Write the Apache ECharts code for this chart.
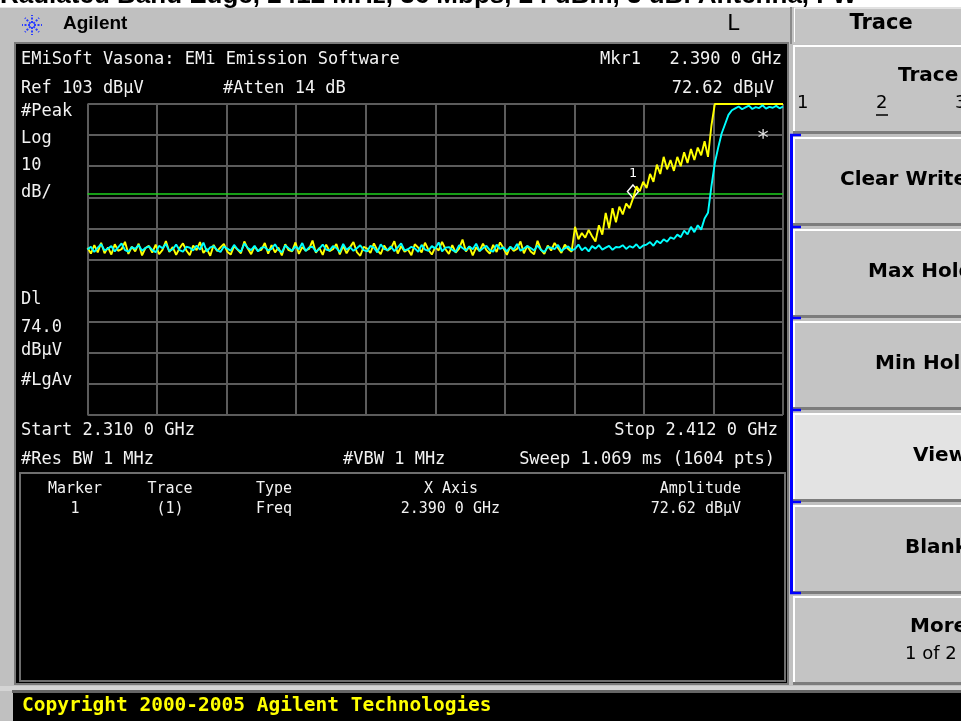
<!DOCTYPE html>
<html><head><meta charset="utf-8">
<script src="https://cdn.jsdelivr.net/npm/echarts@6/dist/echarts.min.js"></script>
<style>html,body{margin:0;padding:0;background:#c0c0c0;overflow:hidden}#c{width:961px;height:721px}</style>
</head><body><div id="c"></div>
<script>
// ---- Sweep settings (from the instrument annotation) ----
const startMHz = 2310.0;
const stopMHz = 2412.0;
const stepMHz = 0.5;
const refLevel = 103;      // dBuV, top of graticule
const bottomLevel = 3;     // 10 dB/div, 10 divisions
const displayLine = 74.0;  // DL 74.0 dBuV
const markerFreq = 2390.0; // Mkr1 2.390 0 GHz
const markerAmp = 72.62;   // 72.62 dBuV

// Graticule divisions
const xGridMHz = [2310, 2320.2, 2330.4, 2340.6, 2350.8, 2361, 2371.2, 2381.4, 2391.6, 2401.8, 2412];
const yGridDb = [3, 13, 23, 33, 43, 53, 63, 73, 83, 93, 103];

// Trace 1 (yellow, #Peak), dBuV, one value per 0.5 MHz from 2310 MHz
const peakTrace = [
56.8,54.9,57.6,55.3,58.4,55.0,56.9,54.6,57.9,55.8,56.3,58.7,54.8,57.1,55.6,58.1,54.3,56.7,57.4,55.2,
57.8,54.7,56.1,58.9,55.4,57.0,54.5,56.6,58.2,55.9,54.4,57.5,56.0,58.6,55.1,56.4,54.2,57.7,55.7,56.9,
58.0,55.5,54.6,57.3,56.2,55.0,58.8,56.5,54.7,57.2,55.8,56.1,58.3,54.9,57.6,55.3,56.8,54.3,57.9,56.0,
55.6,58.5,54.8,57.0,55.9,56.4,59.1,55.2,56.7,54.5,57.8,55.7,56.3,58.0,54.6,57.4,55.0,56.9,58.6,55.4,
54.2,57.1,56.5,55.1,58.2,56.0,54.7,57.5,55.8,56.6,58.9,54.9,57.3,55.5,56.2,54.4,57.9,56.8,55.3,58.4,
56.1,54.6,57.0,55.9,58.7,56.3,54.8,57.6,55.2,56.5,59.4,55.6,57.2,54.3,56.9,55.7,58.1,56.0,54.9,57.7,
55.4,58.5,56.6,54.5,57.1,55.8,56.4,58.8,55.0,57.4,55.6,54.7,59.0,56.2,54.8,57.5,55.9,58.3,56.7,55.1,
57.8,56.4,55.5,
63.5,59.5,61.5,60.0,62.5,60.5,58.8,64.0,61.0,68.0,
63.0,69.5,65.0,70.0,67.5,71.0,69.5,72.6,76.5,75.0,
78.0,76.0,80.5,78.0,83.5,80.5,86.0,82.0,85.0,81.5,
86.0,83.0,87.5,84.0,88.5,85.0,89.0,86.5,91.0,86.0,
96.0,
103,103,103,103,103,103,103,103,103,103,103,103,103,103,103,103,103,103,103,103,103
];

// Trace 2 (cyan, #LgAv), dBuV, same sweep points
const avgTrace = [
56.2,57.1,55.4,56.8,57.9,55.9,56.5,57.3,55.6,56.9,58.2,56.0,55.5,57.0,56.4,57.6,55.8,56.7,57.2,56.1,
55.3,57.4,56.6,58.0,55.7,56.3,57.8,56.0,55.5,57.1,56.8,55.9,57.5,56.2,58.4,55.6,56.9,57.3,56.0,55.4,
57.2,56.5,55.8,57.7,56.3,55.5,58.1,56.7,56.0,57.4,55.6,56.8,57.0,55.9,56.4,57.9,56.1,55.3,57.5,56.6,
55.8,57.2,56.3,58.3,55.7,56.9,57.1,55.5,56.5,57.8,56.2,55.9,57.3,56.7,55.4,58.0,56.1,57.0,55.8,56.6,
57.6,56.0,55.6,57.4,56.8,55.3,57.9,56.4,56.0,57.2,55.7,56.9,58.2,55.9,56.3,57.1,56.6,55.5,57.7,56.2,
55.8,57.3,56.5,58.5,55.6,56.8,57.0,56.1,55.4,57.6,56.7,55.9,57.2,56.3,58.1,55.7,56.6,57.4,56.0,55.5,
57.8,56.4,56.9,55.6,57.1,56.2,58.0,55.8,56.5,57.3,56.7,55.9,57.5,56.1,55.4,57.0,56.8,56.3,57.7,55.7,
56.6,57.2,55.9,56.4,57.8,56.0,56.9,55.6,57.3,56.5,57.6,56.2,56.8,57.4,56.1,57.0,
56.9,57.6,56.4,57.3,56.8,57.9,56.6,57.5,
57.8,58.6,57.4,59.0,58.2,59.5,58.7,60.1,
59.6,61.0,60.2,62.3,61.1,63.5,61.8,64.0,62.6,66.2,
68.0,76.5,84.0,89.0,93.5,96.5,99.5,101.0,
101.6,102.2,101.3,101.9,102.5,101.4,102.0,101.7,102.6,101.5,102.1,101.8,102.4,101.6,102.2
];

const sweepFreqs = peakTrace.map((_, i) => startMHz + i * stepMHz);

// ---- instrument frame drawing helpers ----
const MONO = "'DejaVu Sans Mono'";
const els = [];
function rect(x, y, w, h, fill, z, stroke, lw) {
  els.push({type:'rect', z: z || 0, silent:true, shape:{x, y, width:w, height:h},
    style:{fill: fill || 'none', stroke: stroke || null, lineWidth: lw || 0}});
}
function line(x1, y1, x2, y2, color, w, z, dash) {
  els.push({type:'line', z: z || 1, silent:true, shape:{x1, y1, x2, y2},
    style:{stroke: color, lineWidth: w, lineDash: dash || null}});
}
function txt(s, x, y, font, fill, align, z) {
  els.push({type:'text', z: z || 10, silent:true, x, y,
    style:{text: s, font, fill, align: align || 'left', textAlign: align || 'left',
      verticalAlign:'middle', textVerticalAlign:'middle'}});
}

// title strip (mostly hidden behind the instrument header)
rect(0, 0, 961, 8, '#ffffff', 0);
txt('Radiated Band Edge, 2412 MHz, 36 Mbps, 24 dBm, 3 dBi Antenna, FW', 0, -4, "bold 26px 'Liberation Sans'", '#000', 'left', 0);
// header bar
rect(0, 7, 790, 36, '#c0c0c0', 1);
line(0, 7.5, 790, 7.5, '#e6e6e6', 1, 1);
// logo
const lc = [32, 25];
for (let a = 0; a < 8; a++) {
  const ang = a * Math.PI / 4;
  line(lc[0] + Math.cos(ang) * 2, lc[1] + Math.sin(ang) * 2, lc[0] + Math.cos(ang) * 10, lc[1] + Math.sin(ang) * 10, '#2a3cff', 2, 2, [2, 1.5]);
}
txt('Agilent', 63, 24, "bold 19px 'Liberation Sans'", '#000', 'left', 3);
txt('L', 727, 24, "22px " + MONO, '#000', 'left', 3);

// screen
rect(15, 43, 773, 641, '#000000', 1, '#7a7a7a', 2);
// marker table frame
rect(20, 473, 765, 208, null, 2, '#6e6e6e', 2);
// copyright bar
rect(0, 686, 961, 5, '#d4d4d4', 1);
rect(12, 690, 949, 3, '#666666', 1);
rect(13, 693, 948, 28, '#000000', 1);
txt('Copyright 2000-2005 Agilent Technologies', 22, 706, "bold 19.5px " + MONO, '#ffff00', 'left', 3);

// screen annotations
const SF = "17px " + MONO, W = '#f2f2f2';
txt('EMiSoft Vasona: EMi Emission Software', 21, 60, SF, W);
txt('Ref 103 dBµV', 21, 89, SF, W);
txt('#Atten 14 dB', 223, 89, SF, W);
txt('Mkr1', 600, 60, SF, W);
txt('2.390 0 GHz', 782, 60, SF, W, 'right');
txt('72.62 dBµV', 774, 89, SF, W, 'right');
txt('#Peak', 21, 112, SF, W);
txt('Log', 21, 139, SF, W);
txt('10', 21, 166, SF, W);
txt('dB/', 21, 193, SF, W);
txt('Dl', 21, 300, SF, W);
txt('74.0', 21, 328, SF, W);
txt('dBµV', 21, 351, SF, W);
txt('#LgAv', 21, 381, SF, W);
txt('Start 2.310 0 GHz', 21, 431, SF, W);
txt('Stop 2.412 0 GHz', 778, 431, SF, W, 'right');
txt('#Res BW 1 MHz', 21, 460, SF, W);
txt('#VBW 1 MHz', 343, 460, SF, W);
txt('Sweep 1.069 ms (1604 pts)', 775, 460, SF, W, 'right');
txt('*', 763, 139, "22px " + MONO, '#e0e0e0', 'center', 12);
// marker table
const TF = "15px " + MONO;
txt('Marker', 75, 489, TF, W, 'center');
txt('Trace', 170, 489, TF, W, 'center');
txt('Type', 256, 489, TF, W);
txt('X Axis', 451, 489, TF, W, 'center');
txt('Amplitude', 741, 489, TF, W, 'right');
txt('1', 75, 509, TF, W, 'center');
txt('(1)', 170, 509, TF, W, 'center');
txt('Freq', 256, 509, TF, W);
txt('2.390 0 GHz', 500, 509, TF, W, 'right');
txt('72.62 dBµV', 741, 509, TF, W, 'right');

// softkey panel
rect(790, 7, 171, 37, '#c4c4c4', 1);
line(791, 7, 791, 44, '#8a8a8a', 2, 2);
line(794, 8, 961, 8, '#ffffff', 1, 2);
line(794.5, 8, 794.5, 42, '#ffffff', 1, 2);
txt('Trace', 881, 24, "bold 21px 'DejaVu Sans'", '#000', 'center', 3);
const BF = "bold 20px 'DejaVu Sans'";
const buttons = [
  {y: 45, h: 89, fill: '#c4c4c4'},
  {y: 137, h: 89, fill: '#c4c4c4', t: 'Clear Write', x: 840},
  {y: 229, h: 89, fill: '#c4c4c4', t: 'Max Hold', x: 868},
  {y: 321, h: 89, fill: '#c4c4c4', t: 'Min Hold', x: 875},
  {y: 413, h: 89, fill: '#e3e3e3', t: 'View', x: 913},
  {y: 505, h: 89, fill: '#c4c4c4', t: 'Blank', x: 905},
  {y: 596, h: 89, fill: '#c4c4c4'}
];
buttons.forEach(b => {
  rect(793, b.y, 170, b.h, b.fill, 1);
  line(793, b.y + 1, 961, b.y + 1, '#ffffff', 2, 2);
  line(794, b.y, 794, b.y + b.h - 3, '#ffffff', 2, 2);
  line(793, b.y + b.h - 1.5, 961, b.y + b.h - 1.5, '#7c7c7c', 3, 2);
  if (b.t) txt(b.t, b.x, b.y + 43, BF, '#000', 'left', 3);
});
txt('Trace', 898, 76, BF, '#000', 'left', 3);
txt('1', 797, 103, "18px 'DejaVu Sans'", '#000', 'left', 3);
txt('2', 876, 103, "18px 'DejaVu Sans'", '#000', 'left', 3);
line(876, 115, 888, 115, '#000', 1.5, 3);
txt('3', 955, 103, "18px 'DejaVu Sans'", '#000', 'left', 3);
txt('More', 910, 627, BF, '#000', 'left', 3);
txt('1 of 2', 905, 654, "18px 'DejaVu Sans'", '#000', 'left', 3);
// blue bracket
line(791.5, 135, 791.5, 594, '#0000ff', 3, 4);
[135, 227, 318, 410, 502, 593].forEach(y => line(790, y, 801, y, '#0000ff', 2.5, 4));

const chart = echarts.init(document.getElementById('c'), null, {renderer: 'canvas'});
chart.setOption({
  animation: false,
  backgroundColor: '#c0c0c0',
  grid: {left: 87.5, top: 104, width: 695.5, height: 311, show: false},
  xAxis: {type: 'value', min: startMHz, max: stopMHz, show: false},
  yAxis: {type: 'value', min: bottomLevel, max: refLevel, show: false},
  graphic: {elements: els},
  series: [
    {type: 'line', name: 'graticule', data: [], z: 5, silent: true,
      markLine: {silent: true, animation: false, symbol: ['none', 'none'], label: {show: false},
        lineStyle: {color: '#5c5c5c', width: 2, type: 'solid'},
        data: xGridMHz.map(f => ({xAxis: f})).concat(yGridDb.map(v => ({yAxis: v})))}},
    {type: 'line', name: 'Display line', data: [], z: 6, silent: true,
      markLine: {silent: true, animation: false, symbol: ['none', 'none'], label: {show: false},
        lineStyle: {color: '#1ed21e', width: 1.5, type: 'solid'},
        data: [{yAxis: displayLine}]}},
    {type: 'line', name: 'Trace 1 (#Peak)', z: 7, symbol: 'none', silent: true,
      data: peakTrace.map((v, i) => [sweepFreqs[i], v]),
      lineStyle: {color: '#ffff00', width: 1.9},
      markPoint: {silent: true, animation: false, symbol: 'diamond', symbolSize: [11, 13], symbolOffset: [0, -7],
        itemStyle: {color: 'rgba(0,0,0,0)', borderColor: '#ffffff', borderWidth: 1.5},
        label: {show: true, position: 'top', distance: 4, formatter: '1', color: '#ffffff', fontFamily: 'DejaVu Sans Mono', fontSize: 13},
        data: [{coord: [markerFreq, markerAmp]}]}},
    {type: 'line', name: 'Trace 2 (#LgAv)', z: 8, symbol: 'none', silent: true,
      data: avgTrace.map((v, i) => [sweepFreqs[i], v]),
      lineStyle: {color: '#00ffff', width: 1.9}}
  ]
});
</script></body></html>
